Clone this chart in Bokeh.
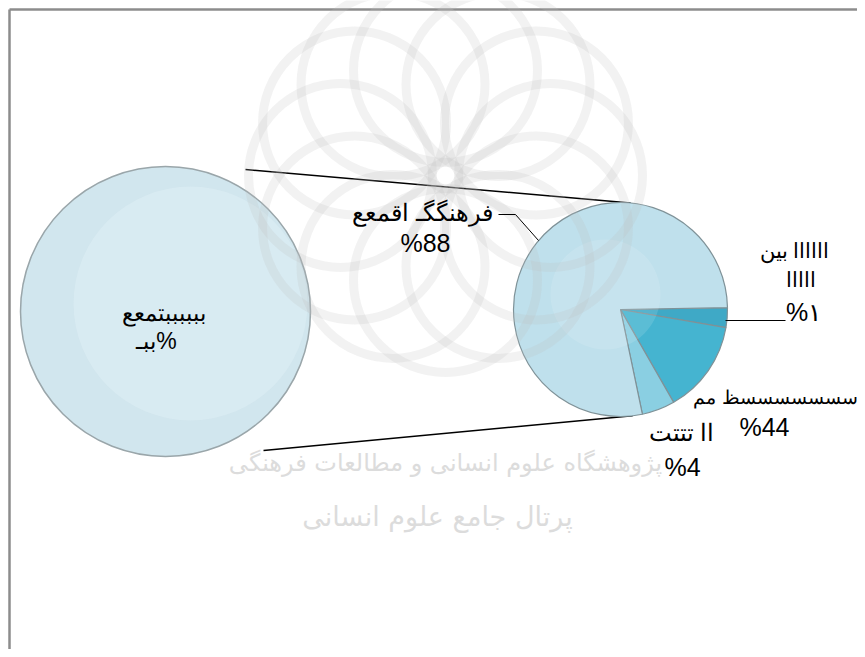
import numpy as np
from bokeh.plotting import figure
from bokeh.models import Range1d, ColumnDataSource
from bokeh.embed import file_html
from bokeh.resources import INLINE
from bokeh.core.properties import value

# ---- data ----
main_names = ["اااااا بین", "سسسسسسسظ مم", "اا تتتت", "فرهنگگـ اقمعع"]
main_values = [3, 14, 5, 78]
main_labels = ["%۱", "%44", "%4", "%88"]
main_colors = ["#3fa9c6", "#45b4d0", "#8acfe2", "#bfe0ec"]

second_names = ["ببببببتمعع"]
second_values = [100]
second_labels = ["ببـ%"]

W, H = 857, 649

def X(sx):
    return sx

def Y(sy):
    return H - sy

p = figure(width=W, height=H, output_backend="svg", toolbar_location=None,
           x_range=Range1d(0, W), y_range=Range1d(0, H), min_border=0)
p.axis.visible = False
p.grid.visible = False
p.outline_line_color = None
p.background_fill_color = "white"

# frame (left and top edges)
p.line([X(9), X(9)], [0, Y(9)], line_color="#8c8c8c", line_width=2.5)
p.line([X(9), W], [Y(9), Y(9)], line_color="#8c8c8c", line_width=2.5)

# watermark texts
p.text([X(445)], [Y(462)], text=["پژوهشگاه علوم انسانی و مطالعات فرهنگی"],
       text_font=value("DejaVu Sans"), text_font_size="24px", text_color="#dcdcdc",
       text_align="center", text_baseline="middle")
p.text([X(437)], [Y(516)], text=["پرتال جامع علوم انسانی"],
       text_font=value("DejaVu Sans"), text_font_size="27px", text_color="#dcdcdc",
       text_align="center", text_baseline="middle")

# geometry
cx1, cy1, r1 = 620, 309, 107    # main pie
cx2, cy2, r2 = 165, 311, 145    # secondary pie

# connector lines
top_a = np.deg2rad(84.6)
bot_a = np.deg2rad(-83.5)
p.line([X(245), X(cx1 + r1 * np.cos(top_a))], [Y(169), Y(cy1 - r1 * np.sin(top_a))],
       line_color="black", line_width=1.5)
p.line([X(263), X(cx1 + r1 * np.cos(bot_a))], [Y(450), Y(cy1 - r1 * np.sin(bot_a))],
       line_color="black", line_width=1.5)

# secondary pie (single slice)
p.circle(x=[X(cx2)], y=[Y(cy2)], radius=r2, fill_color="#d1e6ee",
         line_color="#9aa6aa", line_width=1.5)
p.circle(x=[X(cx2 + 25)], y=[Y(cy2 - 8)], radius=r2 - 28, fill_color="#e0eff5",
         fill_alpha=0.5, line_color=None)

# main pie
vals = np.array(main_values, dtype=float)
cum = np.cumsum(vals) / vals.sum()
prev = np.concatenate([[0], cum[:-1]])
start = -2 * np.pi * cum + np.deg2rad(1)
end = -2 * np.pi * prev + np.deg2rad(1)
src = ColumnDataSource(dict(x=[X(cx1)] * len(vals), y=[Y(cy1)] * len(vals),
                            start=start, end=end, color=main_colors))
p.wedge(x="x", y="y", radius=r1, start_angle="start", end_angle="end",
        fill_color="color", line_color="#7f9298", line_width=1.2, source=src)
p.circle(x=[X(cx1 - 15)], y=[Y(cy1 - 15)], radius=55, fill_color="white",
         fill_alpha=0.12, line_color=None)

# faint rosette watermark (decorative)
wm_cx, wm_cy = 445, 175
ang = np.deg2rad(np.arange(0, 360, 30))
p.circle(x=X(wm_cx + 105 * np.cos(ang)), y=Y(wm_cy + 105 * np.sin(ang)), radius=92,
         fill_color=None, line_color="#bdbdbd", line_alpha=0.2, line_width=9)

# labels
fnt = value("Liberation Sans")
def label(sx, sy, txt, size="22px", align="center"):
    p.text([X(sx)], [Y(sy)], text=[txt], text_font=fnt, text_font_size=size,
           text_color="black", text_align=align, text_baseline="middle")

# big slice label + leader
label(422, 212, main_names[3], "24px")
label(425, 242, main_labels[3], "25px")
p.line([X(498), X(515), X(538)], [Y(214), Y(214), Y(240)], line_color="black", line_width=1)

# 1% slice
label(794, 250, main_names[0], "21px")
label(800, 279, "ااااا", "21px")
label(803, 311, main_labels[0], "25px")
p.line([X(725), X(785)], [Y(320), Y(320)], line_color="black", line_width=1)

# 44
label(775, 397, main_names[1], "19px")
label(764, 426, main_labels[1], "25px")

# 4
label(681, 432, main_names[2], "24px")
label(682, 466, main_labels[2], "25px")

# secondary
label(163, 312, second_names[0], "23px")
label(156, 340, second_labels[0], "23px")

open("out.html", "w").write(file_html(p, INLINE))
